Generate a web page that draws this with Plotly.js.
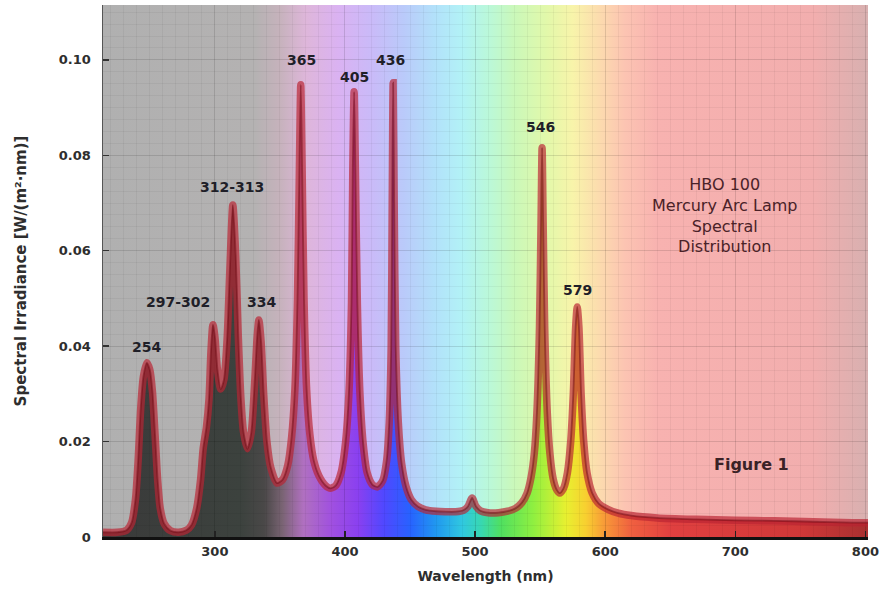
<!DOCTYPE html>
<html>
<head>
<meta charset="utf-8">
<script src="https://cdn.plot.ly/plotly-3.0.1.min.js"></script>
<style>html,body{margin:0;padding:0;background:#fff;}#chart{width:887px;height:601px;}</style>
</head>
<body>
<div id="chart"></div>
<script>
// ---------------- DATA ----------------
const wavelength = [214, 225, 232, 236, 239, 241, 243, 245, 247.7, 250, 252, 254, 256, 258, 261, 266, 272, 278,
  282, 286, 289, 291, 293.5, 295.5, 297, 298.5, 300, 302, 304.5, 307, 309.5, 311.5, 313.8, 316, 318, 320, 322, 325,
  328, 330.5, 332.5, 333.8, 335.5, 337.5, 340, 343, 347.7, 352, 356, 359, 361.5, 363.5, 365, 366, 367, 368.5, 370.5,
  373, 376, 380, 385, 389, 393, 397, 400.5, 403, 405, 406, 407, 408, 409.5, 411.5, 414, 417, 421, 425, 429, 432, 434,
  435.5, 436.3, 437, 437.8, 439, 441, 443.5, 447, 451, 456, 462, 470, 477, 485, 491, 494.5, 497.7, 500.5, 504, 510,
  518, 525, 531, 536, 540, 543, 545.5, 547.5, 549.5, 550.7, 551.5, 552.3, 553.5, 555.5, 557.5, 560, 562.5, 565, 568,
  571, 573.5, 575.5, 577.3, 578.5, 579.8, 581.5, 583.5, 586, 590, 595, 602, 610, 620, 640, 670, 700, 730, 760, 790, 802];
const irradiance = [0.0010, 0.0010, 0.0014, 0.0030, 0.0080, 0.0160, 0.0270, 0.0335, 0.0365, 0.0350, 0.0305, 0.0215,
  0.0120, 0.0060, 0.0028, 0.0013, 0.0010, 0.0014,
  0.0025, 0.0060, 0.0120, 0.0185, 0.0230, 0.0290, 0.0390, 0.0445, 0.0420, 0.0350, 0.0310, 0.0330, 0.0420, 0.0560,
  0.0696, 0.0590, 0.0420, 0.0290, 0.0220, 0.0185,
  0.0220, 0.0320, 0.0420, 0.0455, 0.0410, 0.0300, 0.0200, 0.0145, 0.0113, 0.0120, 0.0150, 0.0210, 0.0310, 0.0500,
  0.0780, 0.0948, 0.0780, 0.0500, 0.0310,
  0.0215, 0.0160, 0.0128, 0.0108, 0.0102, 0.0108, 0.0135, 0.0200, 0.0300, 0.0490, 0.0770, 0.0933, 0.0770, 0.0490,
  0.0300, 0.0195, 0.0135, 0.0110, 0.0105, 0.0118, 0.0160, 0.0240,
  0.0400, 0.0700, 0.0952, 0.0700, 0.0400, 0.0240, 0.0155, 0.0105, 0.0078, 0.0064, 0.0057, 0.0054, 0.0053, 0.0053,
  0.0056, 0.0064, 0.0082, 0.0065, 0.0055, 0.0051,
  0.0051, 0.0054, 0.0060, 0.0072, 0.0092, 0.0125, 0.0175, 0.0260, 0.0440, 0.0660, 0.0816, 0.0660, 0.0440, 0.0260,
  0.0175, 0.0122, 0.0100, 0.0092, 0.0102,
  0.0135, 0.0200, 0.0300, 0.0440, 0.0482, 0.0440, 0.0300, 0.0200, 0.0135, 0.0092, 0.0070, 0.0058, 0.0050, 0.0045,
  0.0040, 0.0037, 0.0035, 0.0034, 0.0032, 0.0030, 0.0030];

const xTickVals = [300, 400, 500, 600, 700, 800];
const xTickText = ['300', '400', '500', '600', '700', '800'];
const yTickVals = [0, 0.02, 0.04, 0.06, 0.08, 0.10];
const yTickText = ['0', '0.02', '0.04', '0.06', '0.08', '0.10'];

const peakLabels = ['254', '297-302', '312-313', '334', '365', '405', '436', '546', '579'];
const peakLabelX = [247.7, 271.6, 313.1, 336.1, 366.9, 407.6, 435.3, 550.6, 579.0];
const peakLabelY = [0.0398, 0.0493, 0.0734, 0.0493, 0.1000, 0.0964, 0.1000, 0.0860, 0.0518];

const noteTexts = ['HBO 100<br>Mercury Arc Lamp<br>Spectral<br>Distribution', 'Figure 1'];
const noteX = [692, 712.8];
const noteY = [0.0673, 0.0151];

const xRange = [214, 802];
const yRange = [0, 0.1115];

// ---------------- STYLE ----------------
const span = xRange[1] - xRange[0];
const f = w => (w - xRange[0]) / span;
const vividScale = [
  [0, '#3a3a3a'], [f(320), '#3c423e'], [f(338), '#4a4848'], [f(352), '#7a6474'], [f(368), '#b070c0'],
  [f(390), '#a050e0'], [f(410), '#8a40f0'], [f(430), '#5048ff'], [f(450), '#2862ff'], [f(470), '#2098f0'],
  [f(490), '#30c8e0'], [f(505), '#38d8b0'], [f(520), '#50e060'], [f(545), '#90f040'], [f(570), '#e8f030'],
  [f(585), '#f8d030'], [f(600), '#f89838'], [f(620), '#f06040'], [f(650), '#e04040'], [f(750), '#d03838'], [1, '#a83030']
];
const paleScale = [
  [0, '#b0b0b0'], [f(330), '#b4b2b2'], [f(350), '#c6b2bc'], [f(370), '#deb6da'], [f(395), '#dab2f2'],
  [f(420), '#cabaf8'], [f(445), '#bacafa'], [f(470), '#b2e2fa'], [f(490), '#b2f2f6'], [f(510), '#baf8da'],
  [f(530), '#caf8ba'], [f(555), '#e2f8aa'], [f(575), '#f8f4aa'], [f(595), '#fcdcae'], [f(615), '#fcc4b2'],
  [f(640), '#f8b2b0'], [f(760), '#f2aeae'], [1, '#d8b0b0']
];

const traces = [
  { // pale spectrum background band
    x: xRange, y: [yRange[1], yRange[1]], type: 'scatter', mode: 'lines',
    line: {width: 0}, fill: 'tozeroy',
    fillgradient: {type: 'horizontal', colorscale: paleScale, start: xRange[0], stop: xRange[1]},
    xaxis: 'x', yaxis: 'y', hoverinfo: 'skip', showlegend: false
  },
  { // vivid fill under curve
    x: wavelength, y: irradiance, type: 'scatter', mode: 'lines',
    line: {width: 0, shape: 'spline', smoothing: 0.7}, fill: 'tozeroy',
    fillgradient: {type: 'horizontal', colorscale: vividScale, start: xRange[0], stop: xRange[1]},
    xaxis: 'x', yaxis: 'y', showlegend: false
  },
  { // thick red curve
    x: wavelength, y: irradiance, type: 'scatter', mode: 'lines',
    line: {width: 7.5, color: 'rgba(185,35,50,0.68)', shape: 'spline', smoothing: 0.7},
    xaxis: 'x2', yaxis: 'y2', showlegend: false
  },
  { // dark core
    x: wavelength, y: irradiance, type: 'scatter', mode: 'lines',
    line: {width: 1.8, color: 'rgba(110,10,20,0.5)', shape: 'spline', smoothing: 0.7},
    xaxis: 'x2', yaxis: 'y2', showlegend: false
  }
];

const annotations = [];
peakLabels.forEach((t, i) => annotations.push({
  x: peakLabelX[i], y: peakLabelY[i], xref: 'x2', yref: 'y2', text: t, showarrow: false,
  font: {family: 'DejaVu Sans', size: 14, color: '#1f1f28', weight: 'bold'}
}));
noteTexts.forEach((t, i) => annotations.push({
  x: noteX[i], y: noteY[i], xref: 'x2', yref: 'y2', text: t, showarrow: false,
  font: {family: 'DejaVu Sans', size: 16, color: i === 0 ? '#4a2228' : '#3a2226', weight: i === 0 ? 'normal' : 'bold'}
}));

const gridMinor = 'rgba(0,0,0,0.045)';
const gridMajor = 'rgba(0,0,0,0.08)';
const tickFont = {family: 'DejaVu Sans', size: 13, color: '#2e2e2e', weight: 'bold'};

const layout = {
  width: 887, height: 601,
  margin: {l: 103, r: 19, t: 5, b: 64},
  paper_bgcolor: '#ffffff', plot_bgcolor: 'rgba(0,0,0,0)',
  font: {family: 'DejaVu Sans', color: '#2e2e2e'},
  showlegend: false,
  xaxis: {range: xRange, visible: false, fixedrange: true},
  yaxis: {range: yRange, visible: false, fixedrange: true},
  xaxis2: {
    range: xRange, anchor: 'y2', tickmode: 'array', tickvals: xTickVals, ticktext: xTickText,
    ticks: 'inside', ticklen: 6, tickwidth: 1.5, tickcolor: '#222',
    showgrid: true, gridcolor: gridMajor, gridwidth: 1,
    minor: {dtick: 10, tick0: 0, showgrid: true, gridcolor: gridMinor, gridwidth: 1},
    showline: true, linecolor: '#111', linewidth: 3, zeroline: false,
    tickfont: tickFont,
    title: {text: 'Wavelength (nm)', font: {family: 'DejaVu Sans', size: 14, color: '#2e2e2e', weight: 'bold'}, standoff: 14}
  },
  yaxis2: {
    range: yRange, anchor: 'x2', tickmode: 'array', tickvals: yTickVals, ticktext: yTickText,
    ticks: 'inside', ticklen: 6, tickwidth: 1.5, tickcolor: '#333',
    showgrid: true, gridcolor: gridMajor, gridwidth: 1,
    minor: {dtick: 0.0025, tick0: 0, showgrid: true, gridcolor: gridMinor, gridwidth: 1},
    showline: true, linecolor: '#555', linewidth: 1.5, zeroline: false,
    tickfont: tickFont, ticklabelstandoff: 8,
    title: {text: 'Spectral Irradiance [W/(m²·nm)]', font: {family: 'DejaVu Sans', size: 15, color: '#2e2e2e', weight: 'bold'}, standoff: 28}
  },
  annotations: annotations
};

Plotly.newPlot('chart', traces, layout, {displayModeBar: false, staticPlot: true});
</script>
</body>
</html>
